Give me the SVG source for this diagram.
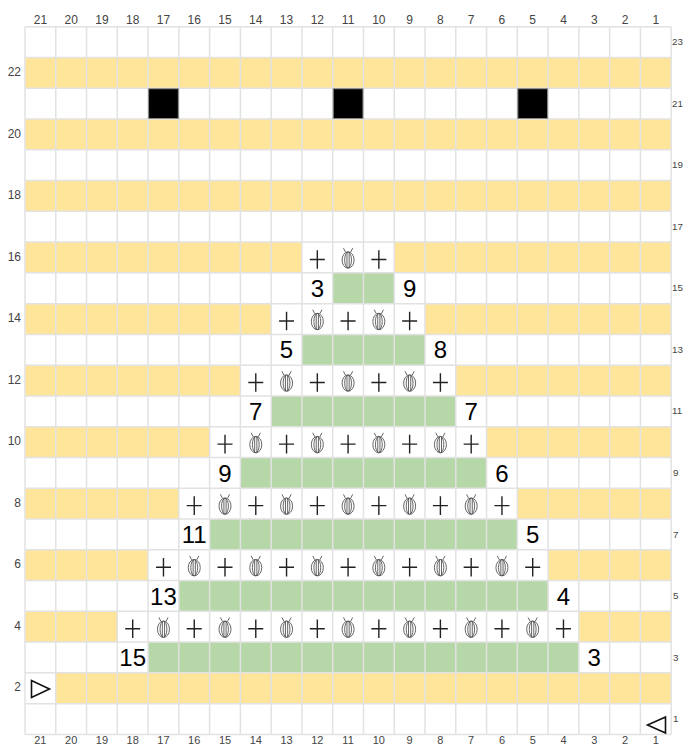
<svg xmlns="http://www.w3.org/2000/svg" xmlns:xlink="http://www.w3.org/1999/xlink" width="683" height="744" viewBox="0 0 683 744">
<style>
.y{fill:#FFE599}
.g{fill:#B6D7A8}
.w{fill:#FFFFFF}
.blk{fill:#000000;stroke:#8a8a8a;stroke-width:1}
.grid{fill:none;stroke:#E2E2E2;stroke-width:1.5}
.lbl{font-family:"Liberation Sans",Arial,sans-serif;font-size:12px;fill:#444}
.lbs{font-family:"Liberation Sans",Arial,sans-serif;font-size:11px;fill:#444}
.lbr{font-family:"Liberation Sans",Arial,sans-serif;font-size:9.8px;fill:#444}
.num{font-family:"Liberation Sans",Arial,sans-serif;font-size:24px;fill:#000;text-anchor:middle}
.tri{fill:#fff;stroke:#111;stroke-width:1.6;stroke-linejoin:miter}
</style>
<defs>
<g id="plus"><path d="M-7.5,2 H7.5 M0,-7.3 V11.3" fill="none" stroke="#222" stroke-width="1.4"/></g>
<g id="bug" fill="none" stroke="#555" stroke-width="0.9">
<ellipse cx="0" cy="2.5" rx="6" ry="8.2" fill="#fff"/>
<ellipse cx="0" cy="2.5" rx="3.4" ry="8"/>
<path d="M-1.1,-5.5 V10.5 M1.1,-5.5 V10.5"/>
<path d="M-2.6,-5.4 L-4.6,-9.3 M2.6,-5.4 L4.6,-9.3"/>
</g>
</defs>
<rect width="683" height="744" fill="#fff"/>
<g id="rows">
<rect class="y" x="25" y="57.47" width="646.17" height="30.77"/>
<rect class="y" x="25" y="119.01" width="646.17" height="30.77"/>
<rect class="y" x="25" y="180.55" width="646.17" height="30.77"/>
<rect class="y" x="25" y="242.09" width="646.17" height="30.77"/>
<rect class="y" x="25" y="303.63" width="646.17" height="30.77"/>
<rect class="y" x="25" y="365.17" width="646.17" height="30.77"/>
<rect class="y" x="25" y="426.71" width="646.17" height="30.77"/>
<rect class="y" x="25" y="488.25" width="646.17" height="30.77"/>
<rect class="y" x="25" y="549.79" width="646.17" height="30.77"/>
<rect class="y" x="25" y="611.33" width="646.17" height="30.77"/>
<rect class="y" x="55.77" y="672.87" width="615.4" height="30.77"/>
</g>
<g id="stitch-cells">
<rect class="w" x="301.93" y="242.09" width="92.31" height="30.77"/>
<rect class="w" x="271.16" y="303.63" width="153.85" height="30.77"/>
<rect class="w" x="240.39" y="365.17" width="215.39" height="30.77"/>
<rect class="w" x="209.62" y="426.71" width="276.93" height="30.77"/>
<rect class="w" x="178.85" y="488.25" width="338.47" height="30.77"/>
<rect class="w" x="148.08" y="549.79" width="400.01" height="30.77"/>
<rect class="w" x="117.31" y="611.33" width="461.55" height="30.77"/>
</g>
<g id="green-cells">
<rect class="g" x="332.7" y="272.86" width="61.54" height="30.77"/>
<rect class="g" x="301.93" y="334.4" width="123.08" height="30.77"/>
<rect class="g" x="271.16" y="395.94" width="184.62" height="30.77"/>
<rect class="g" x="240.39" y="457.48" width="246.16" height="30.77"/>
<rect class="g" x="209.62" y="519.02" width="307.7" height="30.77"/>
<rect class="g" x="178.85" y="580.56" width="369.24" height="30.77"/>
<rect class="g" x="148.08" y="642.1" width="430.78" height="30.77"/>
</g>
<g id="gridlines">
<path class="grid" d="M25,26.7V734.41M55.77,26.7V734.41M86.54,26.7V734.41M117.31,26.7V734.41M148.08,26.7V734.41M178.85,26.7V734.41M209.62,26.7V734.41M240.39,26.7V734.41M271.16,26.7V734.41M301.93,26.7V734.41M332.7,26.7V734.41M363.47,26.7V734.41M394.24,26.7V734.41M425.01,26.7V734.41M455.78,26.7V734.41M486.55,26.7V734.41M517.32,26.7V734.41M548.09,26.7V734.41M578.86,26.7V734.41M609.63,26.7V734.41M640.4,26.7V734.41M671.17,26.7V734.41
M25,26.7H671.17M25,57.47H671.17M25,88.24H671.17M25,119.01H671.17M25,149.78H671.17M25,180.55H671.17M25,211.32H671.17M25,242.09H671.17M25,272.86H671.17M25,303.63H671.17M25,334.4H671.17M25,365.17H671.17M25,395.94H671.17M25,426.71H671.17M25,457.48H671.17M25,488.25H671.17M25,519.02H671.17M25,549.79H671.17M25,580.56H671.17M25,611.33H671.17M25,642.1H671.17M25,672.87H671.17M25,703.64H671.17M25,734.41H671.17"/>
</g>
<g id="black-cells">
<rect class="blk" x="148.58" y="88.74" width="29.77" height="29.77"/>
<rect class="blk" x="333.2" y="88.74" width="29.77" height="29.77"/>
<rect class="blk" x="517.82" y="88.74" width="29.77" height="29.77"/>
</g>
<g id="stitches">
<use href="#plus" x="317.32" y="257.48"/><use href="#bug" x="348.08" y="257.48"/><use href="#plus" x="378.85" y="257.48"/>
<use href="#plus" x="286.55" y="319.02"/><use href="#bug" x="317.32" y="319.02"/><use href="#plus" x="348.08" y="319.02"/><use href="#bug" x="378.85" y="319.02"/><use href="#plus" x="409.63" y="319.02"/>
<use href="#plus" x="255.78" y="380.56"/><use href="#bug" x="286.55" y="380.56"/><use href="#plus" x="317.32" y="380.56"/><use href="#bug" x="348.08" y="380.56"/><use href="#plus" x="378.85" y="380.56"/><use href="#bug" x="409.63" y="380.56"/><use href="#plus" x="440.4" y="380.56"/>
<use href="#plus" x="225" y="442.1"/><use href="#bug" x="255.78" y="442.1"/><use href="#plus" x="286.55" y="442.1"/><use href="#bug" x="317.32" y="442.1"/><use href="#plus" x="348.08" y="442.1"/><use href="#bug" x="378.85" y="442.1"/><use href="#plus" x="409.63" y="442.1"/><use href="#bug" x="440.4" y="442.1"/><use href="#plus" x="471.17" y="442.1"/>
<use href="#plus" x="194.24" y="503.64"/><use href="#bug" x="225" y="503.64"/><use href="#plus" x="255.78" y="503.64"/><use href="#bug" x="286.55" y="503.64"/><use href="#plus" x="317.32" y="503.64"/><use href="#bug" x="348.08" y="503.64"/><use href="#plus" x="378.85" y="503.64"/><use href="#bug" x="409.63" y="503.64"/><use href="#plus" x="440.4" y="503.64"/><use href="#bug" x="471.17" y="503.64"/><use href="#plus" x="501.94" y="503.64"/>
<use href="#plus" x="163.47" y="565.18"/><use href="#bug" x="194.24" y="565.18"/><use href="#plus" x="225" y="565.18"/><use href="#bug" x="255.78" y="565.18"/><use href="#plus" x="286.55" y="565.18"/><use href="#bug" x="317.32" y="565.18"/><use href="#plus" x="348.08" y="565.18"/><use href="#bug" x="378.85" y="565.18"/><use href="#plus" x="409.63" y="565.18"/><use href="#bug" x="440.4" y="565.18"/><use href="#plus" x="471.17" y="565.18"/><use href="#bug" x="501.94" y="565.18"/><use href="#plus" x="532.7" y="565.18"/>
<use href="#plus" x="132.7" y="626.72"/><use href="#bug" x="163.47" y="626.72"/><use href="#plus" x="194.24" y="626.72"/><use href="#bug" x="225" y="626.72"/><use href="#plus" x="255.78" y="626.72"/><use href="#bug" x="286.55" y="626.72"/><use href="#plus" x="317.32" y="626.72"/><use href="#bug" x="348.08" y="626.72"/><use href="#plus" x="378.85" y="626.72"/><use href="#bug" x="409.63" y="626.72"/><use href="#plus" x="440.4" y="626.72"/><use href="#bug" x="471.17" y="626.72"/><use href="#plus" x="501.94" y="626.72"/><use href="#bug" x="532.7" y="626.72"/><use href="#plus" x="563.48" y="626.72"/>
</g>
<g id="counts" class="num">
<text x="317.32" y="296.9">3</text><text x="409.63" y="296.9">9</text>
<text x="286.55" y="358.4">5</text><text x="440.4" y="358.4">8</text>
<text x="255.78" y="419.9">7</text><text x="471.17" y="419.9">7</text>
<text x="225" y="481.5">9</text><text x="501.94" y="481.5">6</text>
<text x="194.24" y="543">11</text><text x="532.7" y="543">5</text>
<text x="163.47" y="604.6">13</text><text x="563.48" y="604.6">4</text>
<text x="132.7" y="666.1">15</text><text x="594.25" y="666.1">3</text>
</g>
<g id="markers">
<path class="tri" d="M31.5,680.5 L31.5,697.5 L49.5,689 Z"/>
<path class="tri" d="M665.5,717 L665.5,733 L647.5,725 Z"/>
</g>
<g id="col-labels-top" class="lbl" text-anchor="middle">
<text x="40.39" y="24">21</text><text x="71.16" y="24">20</text><text x="101.93" y="24">19</text><text x="132.7" y="24">18</text><text x="163.47" y="24">17</text><text x="194.24" y="24">16</text><text x="225" y="24">15</text><text x="255.78" y="24">14</text><text x="286.55" y="24">13</text><text x="317.32" y="24">12</text><text x="348.08" y="24">11</text><text x="378.85" y="24">10</text><text x="409.63" y="24">9</text><text x="440.4" y="24">8</text><text x="471.17" y="24">7</text><text x="501.94" y="24">6</text><text x="532.7" y="24">5</text><text x="563.48" y="24">4</text><text x="594.25" y="24">3</text><text x="625.02" y="24">2</text><text x="655.79" y="24">1</text>
</g>
<g id="col-labels-bottom" class="lbs" text-anchor="middle">
<text x="40.39" y="743.5">21</text><text x="71.16" y="743.5">20</text><text x="101.93" y="743.5">19</text><text x="132.7" y="743.5">18</text><text x="163.47" y="743.5">17</text><text x="194.24" y="743.5">16</text><text x="225" y="743.5">15</text><text x="255.78" y="743.5">14</text><text x="286.55" y="743.5">13</text><text x="317.32" y="743.5">12</text><text x="348.08" y="743.5">11</text><text x="378.85" y="743.5">10</text><text x="409.63" y="743.5">9</text><text x="440.4" y="743.5">8</text><text x="471.17" y="743.5">7</text><text x="501.94" y="743.5">6</text><text x="532.7" y="743.5">5</text><text x="563.48" y="743.5">4</text><text x="594.25" y="743.5">3</text><text x="625.02" y="743.5">2</text><text x="655.79" y="743.5">1</text>
</g>
<g id="row-labels-left" class="lbl" text-anchor="end">
<text x="21" y="76">22</text><text x="21" y="137.5">20</text><text x="21" y="199.1">18</text><text x="21" y="260.6">16</text><text x="21" y="322.1">14</text><text x="21" y="383.7">12</text><text x="21" y="445.2">10</text><text x="21" y="506.8">8</text><text x="21" y="568.3">6</text><text x="21" y="629.8">4</text><text x="21" y="691.4">2</text>
</g>
<g id="row-labels-right" class="lbr" text-anchor="start">
<text x="672" y="45.2">23</text><text x="672" y="106.7">21</text><text x="672" y="168.3">19</text><text x="672" y="229.8">17</text><text x="672" y="291.4">15</text><text x="672" y="352.9">13</text><text x="672" y="414.4">11</text><text x="673" y="476">9</text><text x="673" y="537.5">7</text><text x="673" y="599.1">5</text><text x="673" y="660.6">3</text><text x="673" y="722.1">1</text>
</g>
</svg>
